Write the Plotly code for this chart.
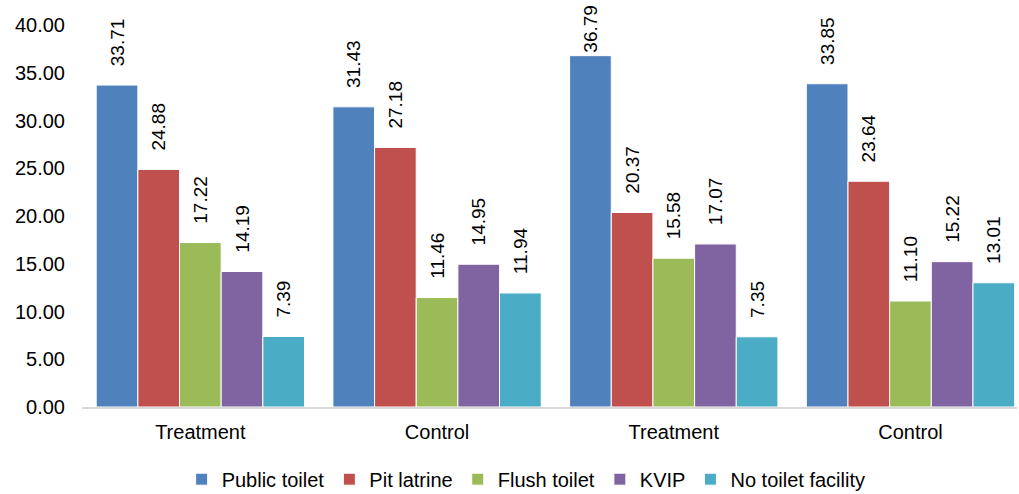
import plotly.graph_objects as go

groups = ["Treatment", "Control", "Treatment", "Control"]
series = ["Public toilet", "Pit latrine", "Flush toilet", "KVIP", "No toilet facility"]
public_toilet = [33.71, 31.43, 36.79, 33.85]
pit_latrine = [24.88, 27.18, 20.37, 23.64]
flush_toilet = [17.22, 11.46, 15.58, 11.10]
kvip = [14.19, 14.95, 17.07, 15.22]
no_toilet = [7.39, 11.94, 7.35, 13.01]
values = [public_toilet, pit_latrine, flush_toilet, kvip, no_toilet]
colors = ["#4F81BD", "#C0504D", "#9BBB59", "#8064A2", "#4BACC6"]
yticks = [0, 5, 10, 15, 20, 25, 30, 35, 40]

FONT = "Liberation Sans, Arial, sans-serif"
PAD = "\u00a0\u00a0\u00a0"


def label(v):
    # labels near the top of the chart area are kept inside it (no gap)
    return (f"{v:.2f}" if v > 35 else PAD + f"{v:.2f}")


x = list(range(len(groups)))
fig = go.Figure()
for name, vals, col in zip(series, values, colors):
    fig.add_trace(go.Bar(
        x=x, y=vals, name=name,
        marker=dict(color=col, line=dict(color="white", width=1)),
        text=[label(v) for v in vals],
        textposition="outside", textangle=-90,
        constraintext="none",
        textfont=dict(family=FONT, size=19, color="black"),
        cliponaxis=False,
    ))

fig.update_layout(
    width=1019, height=494,
    margin=dict(l=82, r=2, t=25, b=87),
    barmode="group", bargap=0.12, bargroupgap=0,
    plot_bgcolor="white", paper_bgcolor="white",
    font=dict(family=FONT, size=20, color="black"),
    showlegend=True,
    legend=dict(orientation="h", x=0.475, xanchor="center",
                yref="container", y=0.03, yanchor="middle",
                font=dict(size=20), itemwidth=30, traceorder="normal"),
)
fig.update_xaxes(
    tickmode="array", tickvals=x, ticktext=groups,
    range=[-0.5, 3.45], showline=True, linecolor="#D9D9D9", linewidth=2,
    ticks="", showgrid=False, tickfont=dict(size=20),
    ticklabelstandoff=6, automargin=False,
)
fig.update_yaxes(
    range=[0, 40], tickmode="array", tickvals=yticks,
    ticktext=[f"{v:.2f}" for v in yticks],
    showgrid=False, zeroline=False, showline=False, ticks="",
    tickfont=dict(size=20), ticklabelstandoff=16, automargin=False,
)
fig.write_html(
    "out.html",
    config={"displayModeBar": False},
    post_script="document.body.style.margin='0';document.body.style.overflow='hidden';",
)
